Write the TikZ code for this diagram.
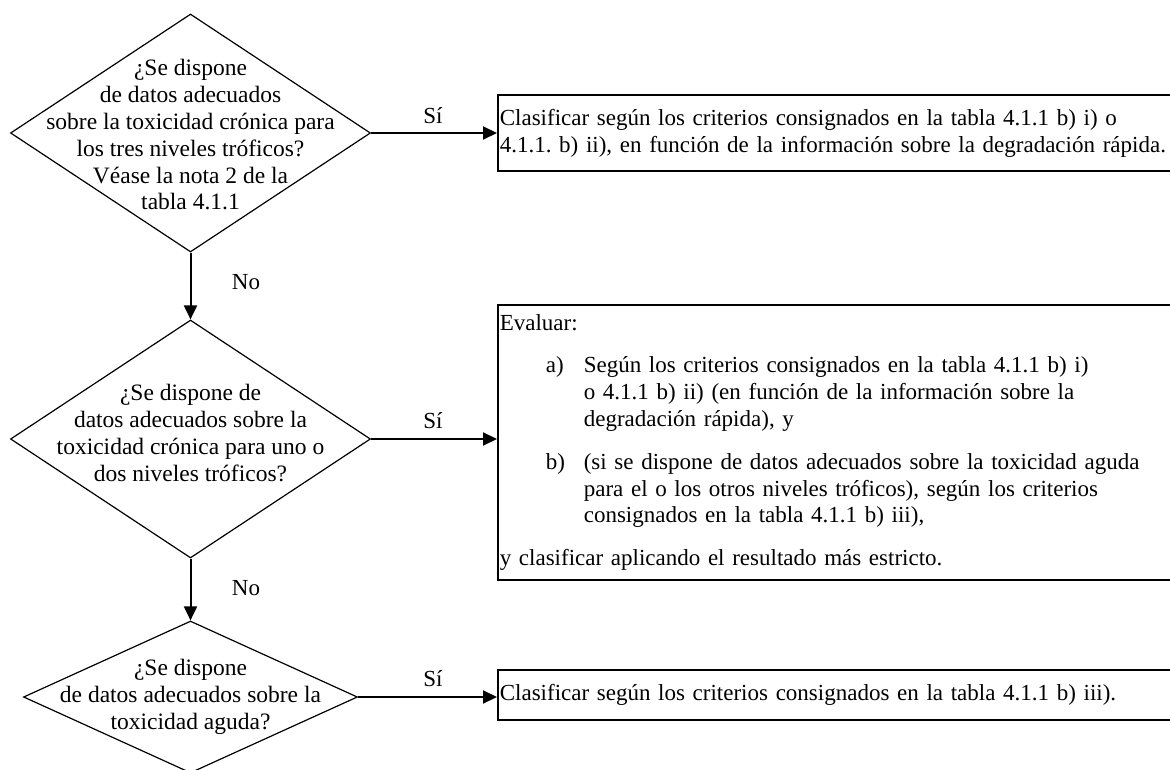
\documentclass[tikz,border=0pt]{standalone}
\usepackage{fontspec}
\setmainfont{Liberation Serif}
\usetikzlibrary{shapes.geometric,arrows.meta}
\frenchspacing
\begin{document}
\begin{tikzpicture}[x=1pt,y=-1pt,
  dec/.style={diamond,draw,line width=1.2pt,inner sep=0pt},
  qtext/.style={align=center,font=\fontsize{23.5}{26.8}\selectfont,inner sep=0pt},
  box/.style={draw,line width=1.6pt,anchor=west,align=left,inner xsep=2pt,inner ysep=0pt,text width=676pt,font=\fontsize{23}{26.8}\selectfont},
  flow/.style={line width=2pt,-{Triangle[length=14pt,width=13pt]}},
  lbl/.style={font=\fontsize{23}{26}\selectfont,inner sep=0pt}]
\useasboundingbox (0,0) rectangle (1170,770);
% decisions
\node[dec,minimum width=360pt,minimum height=238pt] (d1) at (190.5,133) {};
\node[qtext] (t1) at (190.5,135) {¿Se dispone\\de datos adecuados\\sobre la toxicidad crónica para\\los tres niveles tróficos?\\Véase la nota 2 de la\\tabla 4.1.1};
\node[dec,minimum width=360pt,minimum height=238pt] (d2) at (190.5,439) {};
\node[qtext] (t2) at (190.5,433) {¿Se dispone de\\datos adecuados sobre la\\toxicidad crónica para uno o\\dos niveles tróficos?};
\node[dec,minimum width=334pt,minimum height=152pt] (d3) at (190.5,697) {};
\node[qtext] (t3) at (190.5,697) {¿Se dispone\\de datos adecuados sobre la\\toxicidad aguda?};
% boxes
\node[box,minimum height=76pt] (b1) at (497,133) {Clasificar según los criterios consignados en la tabla 4.1.1 b) i) o\\4.1.1. b) ii), en función de la información sobre la degradación rápida.};
\node[box,minimum height=275pt] (b2) at (497,442.5) {Evaluar:\\[16pt]
\hspace*{46pt}\makebox[38pt][l]{a)}Según los criterios consignados en la tabla 4.1.1 b) i)\\
\hspace*{84pt}o 4.1.1 b) ii) (en función de la información sobre la\\
\hspace*{84pt}degradación rápida), y\\[16pt]
\hspace*{46pt}\makebox[38pt][l]{b)}(si se dispone de datos adecuados sobre la toxicidad aguda\\
\hspace*{84pt}para el o los otros niveles tróficos), según los criterios\\
\hspace*{84pt}consignados en la tabla 4.1.1 b) iii),\\[16pt]
y clasificar aplicando el resultado más estricto.};
\node[box,minimum height=50pt] (b3) at (497,695) {Clasificar según los criterios consignados en la tabla 4.1.1 b) iii).};
% connectors
\draw[flow] (d1.east) -- (b1.west |- d1.east);
\draw[flow] (d2.east) -- (b2.west |- d2.east);
\draw[flow] (d3.east) -- (b3.west |- d3.east);
\draw[flow] (d1.south) -- (d2.north);
\draw[flow] (d2.south) -- (d3.north);
% labels
\node[lbl] (s1) at (433,116) {Sí};
\node[lbl] (s2) at (433,421) {Sí};
\node[lbl] (s3) at (433,679) {Sí};
\node[lbl] (n1) at (246,282) {No};
\node[lbl] (n2) at (246,588) {No};
\end{tikzpicture}
\end{document}
